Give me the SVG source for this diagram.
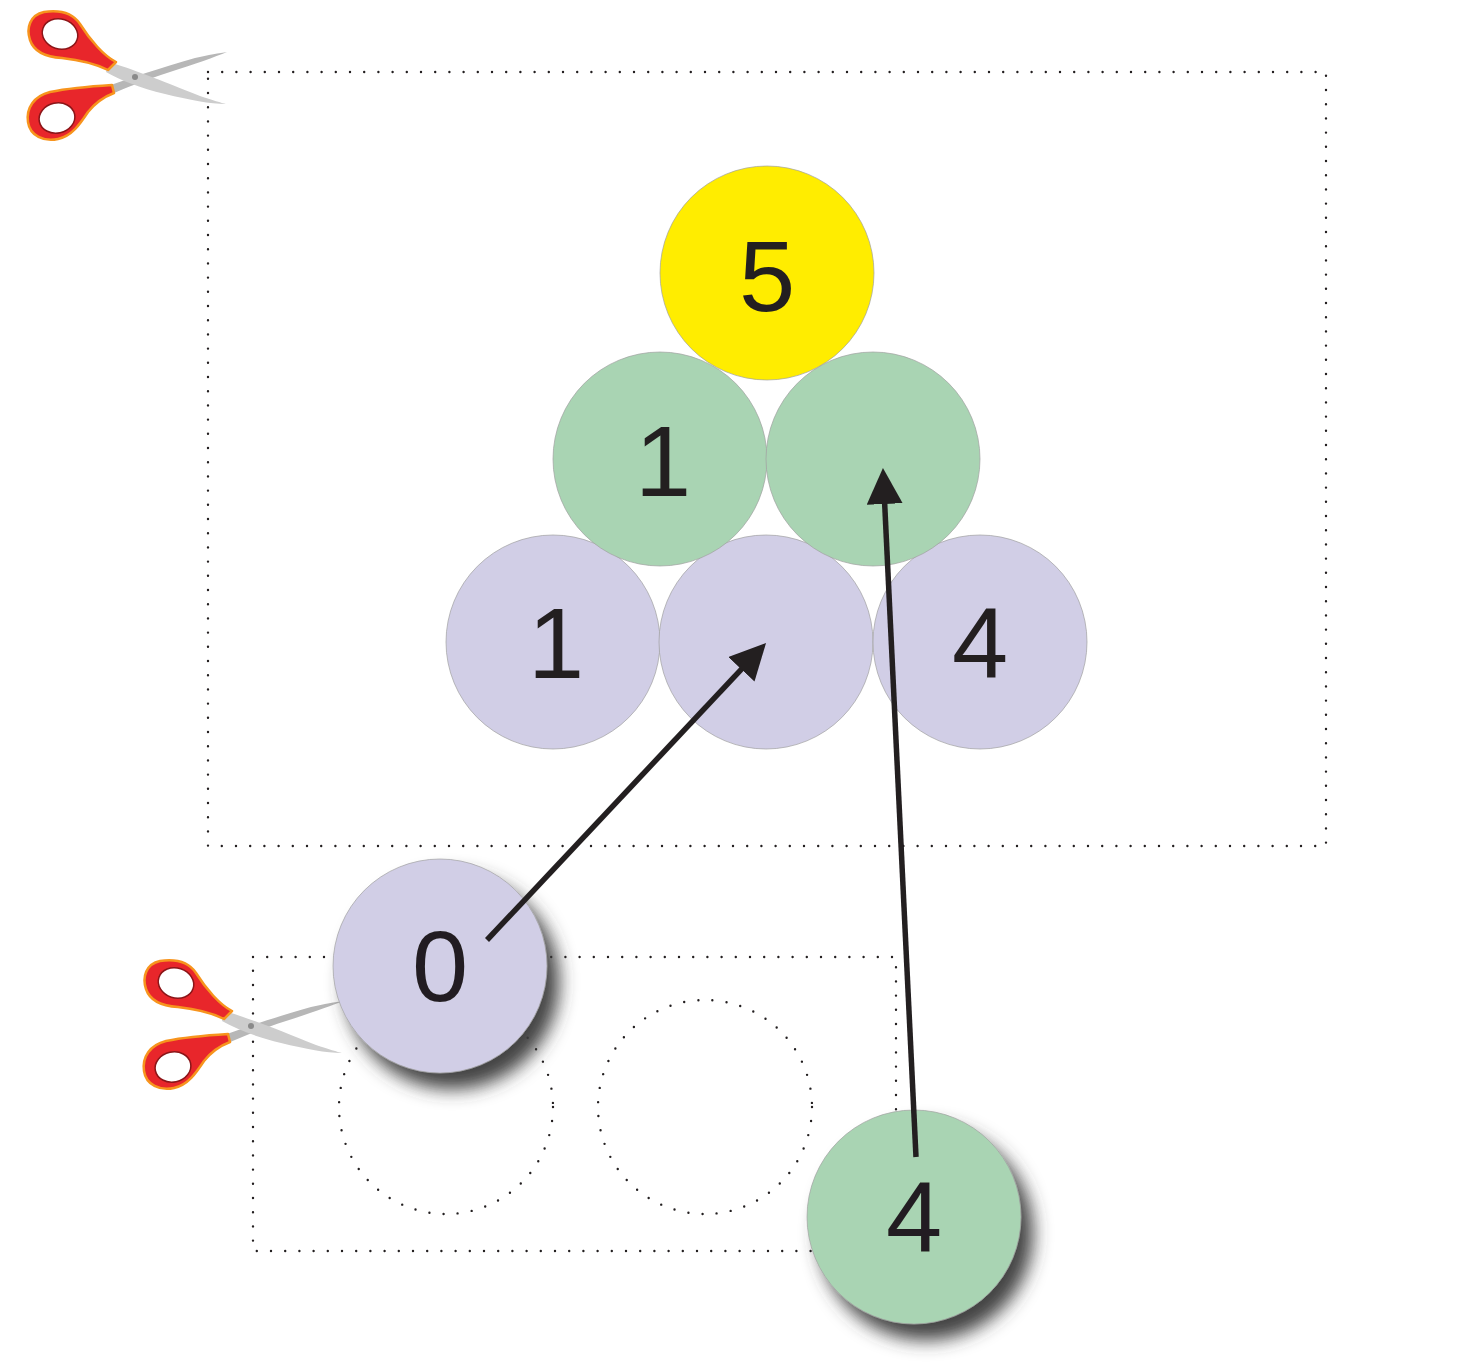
<svg xmlns="http://www.w3.org/2000/svg" xmlns:xlink="http://www.w3.org/1999/xlink" width="1464" height="1370" viewBox="0 0 1464 1370">
<style>
.dot{fill:none;stroke:#231F20;stroke-width:2.4;stroke-dasharray:0 14.2;stroke-linecap:round}
.ball{stroke:#A0A0A0;stroke-width:0.7}
.y{fill:#FFED00}
.g{fill:#A9D4B3}
.p{fill:#D1CEE6}
.lbl{font-family:"Liberation Sans",Arial,sans-serif;font-size:101px;fill:#231F20;text-anchor:middle}
.conn{stroke:#231F20;stroke-width:5.5;fill:none}
</style>
<defs>
<marker id="ah" markerUnits="userSpaceOnUse" markerWidth="36" markerHeight="36" refX="6" refY="18" orient="auto">
<path d="M0,0 L36,18 L0,36 Z" fill="#231F20"/>
</marker>
<filter id="sh" x="-30%" y="-30%" width="170%" height="170%">
<feGaussianBlur in="SourceAlpha" stdDeviation="9"/>
<feOffset dx="12" dy="16" result="b"/>
<feFlood flood-color="#3a3a3a" flood-opacity="0.95"/>
<feComposite in2="b" operator="in" result="s"/>
<feMerge><feMergeNode in="s"/><feMergeNode in="SourceGraphic"/></feMerge>
</filter>
<g id="scissors">
<path d="M108,86 C130,78 160,68 195,58 C208,55 220,53 227,52 C215,57 195,64 170,72 C145,80 125,88 110,95 Z" fill="#B7B7B7"/>
<path d="M108,62 C130,68 160,80 200,96 C212,100 222,103 226,104 C210,104 190,100 165,94 C140,88 120,80 106,72 Z" fill="#CDCDCD"/>
<path d="M116,62 C104,56 90,40 80,24 C72,12 58,10 44,12 C30,15 26,28 30,40 C34,52 46,57 62,58 C80,60 96,64 108,70 Z" fill="#E8262B" stroke="#F7941D" stroke-width="2.5" stroke-linejoin="round"/>
<ellipse cx="60" cy="34" rx="18" ry="15" transform="rotate(18 60 34)" fill="#fff" stroke="#8B1518" stroke-width="1.5"/>
<path d="M112,85 C96,86 70,88 50,92 C34,96 26,108 28,122 C30,136 44,142 58,139 C72,136 80,124 88,112 C96,102 106,96 114,93 Z" fill="#E8262B" stroke="#F7941D" stroke-width="2.5" stroke-linejoin="round"/>
<ellipse cx="57" cy="118" rx="18" ry="15" transform="rotate(-12 57 118)" fill="#fff" stroke="#8B1518" stroke-width="1.5"/>
<circle cx="135" cy="77" r="3" fill="#8A8A8A"/>
</g>
</defs>
<rect width="1464" height="1370" fill="#fff"/>
<g id="cut-frame-top">
<rect class="dot" x="208" y="72" width="1118" height="774"/>
</g>
<g id="scissors-top"><use xlink:href="#scissors"/></g>
<g id="cut-frame-bottom">
<rect class="dot" x="253" y="957" width="643" height="294"/>
<circle class="dot" cx="446" cy="1107" r="107"/>
<circle class="dot" cx="705" cy="1107" r="107"/>
</g>
<g id="scissors-bottom"><use xlink:href="#scissors" transform="translate(116 949)"/></g>
<g id="row-bottom">
<g id="p1"><circle class="ball p" cx="553" cy="642" r="107"/><text class="lbl" x="556" y="678">1</text></g>
<g id="p2"><circle class="ball p" cx="766" cy="642" r="107"/></g>
<g id="p3"><circle class="ball p" cx="980" cy="642" r="107"/><text class="lbl" x="980" y="678">4</text></g>
</g>
<g id="row-middle">
<g id="g1"><circle class="ball g" cx="660" cy="459" r="107"/><text class="lbl" x="663" y="496">1</text></g>
<g id="g2"><circle class="ball g" cx="873" cy="459" r="107"/></g>
</g>
<g id="top"><circle class="ball y" cx="767" cy="273" r="107"/><text class="lbl" x="767" y="311">5</text></g>
<g id="ball-0" filter="url(#sh)"><circle class="ball p" cx="440" cy="966" r="107"/><text class="lbl" x="440" y="1001">0</text></g>
<g id="ball-4" filter="url(#sh)"><circle class="ball g" cx="914" cy="1217" r="107"/><text class="lbl" x="914" y="1252">4</text></g>
<g id="connectors">
<line class="conn" x1="487" y1="940" x2="745.5" y2="664.9" marker-end="url(#ah)"/>
<line class="conn" x1="916" y1="1157" x2="884.4" y2="498" marker-end="url(#ah)"/>
</g>
</svg>
